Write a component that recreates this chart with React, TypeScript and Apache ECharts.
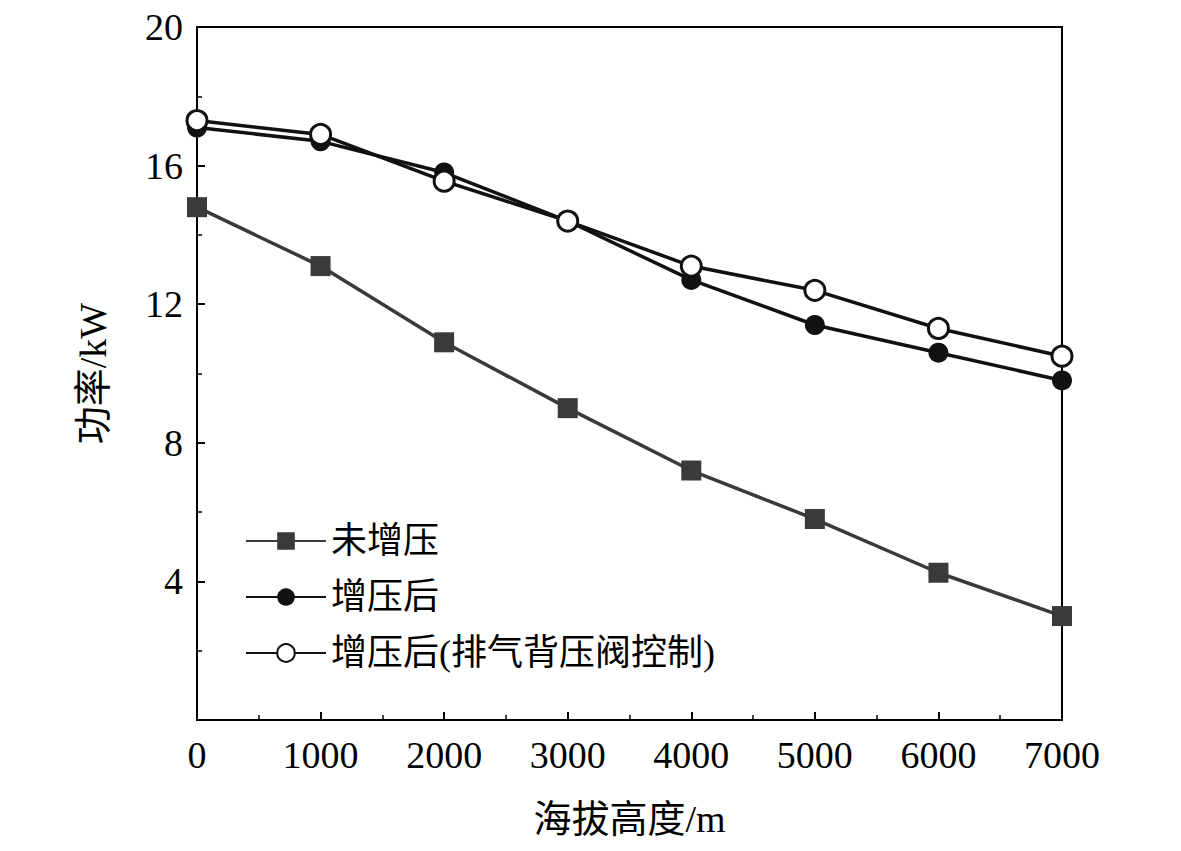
import React, { useEffect, useRef } from 'react';
import * as echarts from 'echarts';

const altitudes = ['0', '1000', '2000', '3000', '4000', '5000', '6000', '7000'];
const noBoost = [14.8, 13.1, 10.9, 9.0, 7.2, 5.8, 4.25, 3.0];
const boosted = [17.1, 16.7, 15.8, 14.4, 12.7, 11.4, 10.6, 9.8];
const boostedCtrl = [17.3, 16.9, 15.55, 14.4, 13.1, 12.4, 11.3, 10.5];

const serif = '"Liberation Serif", "Noto Sans CJK SC", serif';

export default function App() {
  const ref = useRef<HTMLDivElement>(null);

  useEffect(() => {
    if (!ref.current) return;
    const chart = echarts.init(ref.current, undefined, { renderer: 'svg' });
    const axisCommon = {
      axisLine: { lineStyle: { color: '#000', width: 2 } },
      axisTick: { inside: true, length: 8, lineStyle: { color: '#000', width: 2 } },
      minorTick: { show: true, splitNumber: 2, length: 5, lineStyle: { color: '#000', width: 1.5 } },
      splitLine: { show: false },
      axisLabel: { color: '#000', fontSize: 38, fontFamily: serif },
      nameTextStyle: { color: '#000', fontSize: 38, fontFamily: serif },
      nameLocation: 'middle' as const,
    };
    chart.setOption({
      animation: false,
      backgroundColor: '#fff',
      grid: { left: 189, right: 111, top: 14, bottom: 123, show: true, borderColor: '#000', borderWidth: 2 },
      xAxis: {
        ...axisCommon,
        type: 'value',
        min: 0,
        max: 7000,
        interval: 1000,
        name: '海拔高度/m',
        nameGap: 80,
        axisLabel: { ...axisCommon.axisLabel, margin: 16, formatter: (v: number) => String(v) },
      },
      yAxis: {
        ...axisCommon,
        type: 'value',
        min: 0,
        max: 20,
        interval: 4,
        name: '功率/kW',
        nameGap: 85,
        axisLabel: { ...axisCommon.axisLabel, margin: 14, formatter: (v: number) => (v === 0 ? '' : String(v)) },
      },
      legend: {
        orient: 'vertical',
        left: 232,
        top: 510,
        itemWidth: 80,
        itemHeight: 22,
        itemGap: 20,
        textStyle: { color: '#000', fontSize: 36, fontFamily: serif },
        data: ['未增压', '增压后', '增压后(排气背压阀控制)'],
      },
      series: [
        {
          name: '未增压', type: 'line', symbol: 'rect', symbolSize: 20,
          data: altitudes.map((a, i) => [Number(a), noBoost[i]]),
          lineStyle: { color: '#3a3a3a', width: 3.5 }, itemStyle: { color: '#3a3a3a' },
        },
        {
          name: '增压后', type: 'line', symbol: 'circle', symbolSize: 20,
          data: altitudes.map((a, i) => [Number(a), boosted[i]]),
          lineStyle: { color: '#111', width: 3.5 }, itemStyle: { color: '#111' },
        },
        {
          name: '增压后(排气背压阀控制)', type: 'line', symbol: 'circle', symbolSize: 20,
          data: altitudes.map((a, i) => [Number(a), boostedCtrl[i]]),
          lineStyle: { color: '#111', width: 3.5 },
          itemStyle: { color: '#fff', borderColor: '#111', borderWidth: 3 },
        },
      ],
    });
    return () => chart.dispose();
  }, []);

  return <div ref={ref} style={{ width: 1165, height: 835 }} />;
}
